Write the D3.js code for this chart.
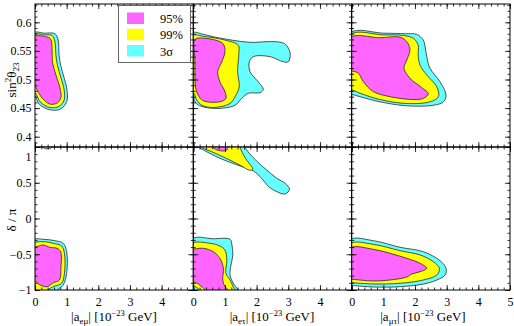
<!DOCTYPE html>
<html><head><meta charset="utf-8">
<script src="https://cdn.jsdelivr.net/npm/d3@7"></script>
<style>
body{margin:0;background:#fff;}
svg, svg text{font-family:"Liberation Serif","DejaVu Serif",serif !important;}
svg{display:block;}
</style></head><body>
<svg id="chart" width="514" height="326"></svg>
<script>
// ---------- data ----------
const xDomain = [0, 5];
const sinDomain = [0.382, 0.632];
const deltaDomain = [-1, 1];

const xTickLabelsA = [0, 1, 2, 3, 4];
const xTickLabelsC = [0, 1, 2, 3, 4, 5];
const sinTicks = [0.4, 0.45, 0.5, 0.55, 0.6];
const sinTickLabels = ["0.4", "0.45", "0.5", "0.55", "0.6"];
const deltaTicks = [-1, -0.5, 0, 0.5, 1];
const deltaTickLabels = ["\u22121", "\u22120.5", "0", "0.5", "1"];
const legendLabels = ["95%", "99%", "3\u03c3"];

// |a_eμ| vs sin²θ23
const emuSin3s = [[-0.05,0.581],[0.3,0.581],[0.63,0.580],[0.73,0.569],[0.76,0.543],[0.81,0.525],[0.92,0.503],[1.01,0.482],[1.0,0.461],[0.79,0.448],[0.47,0.447],[0.13,0.457],[0.0,0.471],[-0.05,0.472]];
const emuSin99 = [[-0.05,0.578],[0.3,0.578],[0.54,0.577],[0.63,0.566],[0.66,0.543],[0.71,0.525],[0.82,0.503],[0.92,0.482],[0.92,0.464],[0.76,0.453],[0.47,0.451],[0.16,0.461],[0.02,0.476],[-0.05,0.478]];
const emuSin95 = [[-0.05,0.574],[0.32,0.575],[0.49,0.571],[0.54,0.552],[0.55,0.531],[0.66,0.508],[0.79,0.485],[0.82,0.469],[0.70,0.459],[0.47,0.457],[0.22,0.468],[0.06,0.482],[0.0,0.489],[-0.05,0.49]];

// |a_eτ| vs sin²θ23
const etauSin3s = [[-0.05,0.581],[0.32,0.579],[0.69,0.574],[1.79,0.565],[2.27,0.566],[2.64,0.566],[2.90,0.562],[3.06,0.546],[3.0,0.531],[2.84,0.531],[2.42,0.540],[1.90,0.540],[1.77,0.531],[1.79,0.514],[2.05,0.496],[2.21,0.483],[2.11,0.477],[1.74,0.476],[1.53,0.467],[1.32,0.455],[0.95,0.450],[0.53,0.450],[0.21,0.454],[0.05,0.461],[0,0.470],[-0.05,0.471]];
const etauSin99 = [[-0.05,0.576],[0.37,0.575],[1.0,0.569],[1.42,0.560],[1.44,0.546],[1.40,0.514],[1.45,0.487],[1.32,0.470],[1.16,0.458],[0.63,0.451],[0.27,0.455],[0.11,0.464],[0.02,0.476],[-0.05,0.478]];
const etauSin95 = [[0.05,0.570],[0.37,0.572],[0.93,0.563],[1.0,0.549],[0.90,0.531],[0.77,0.514],[0.84,0.496],[1.0,0.479],[1.03,0.467],[0.84,0.461],[0.31,0.463],[0.15,0.473],[0.07,0.487],[0.05,0.534]];

// |a_μτ| vs sin²θ23
const mutauSin3s = [[-0.05,0.581],[1.0,0.581],[1.7,0.580],[2.05,0.579],[2.26,0.569],[2.32,0.557],[2.37,0.540],[2.47,0.520],[2.79,0.496],[2.98,0.473],[2.90,0.461],[2.58,0.455],[1.74,0.454],[0.89,0.461],[0.26,0.470],[0,0.474],[-0.05,0.474]];
const mutauSin99 = [[-0.05,0.578],[1.0,0.578],[1.63,0.577],[1.95,0.572],[2.10,0.560],[2.10,0.543],[2.16,0.525],[2.37,0.508],[2.69,0.487],[2.74,0.470],[2.47,0.461],[1.74,0.458],[0.89,0.465],[0.26,0.476],[0,0.482],[-0.05,0.482]];
const mutauSin95 = [[-0.05,0.573],[0.89,0.573],[1.53,0.574],[1.74,0.566],[1.84,0.552],[1.74,0.534],[1.65,0.520],[1.84,0.502],[2.21,0.486],[2.42,0.475],[2.26,0.467],[1.95,0.465],[1.21,0.470],[0.68,0.479],[0.37,0.496],[0.21,0.511],[0,0.515],[-0.05,0.515]];

// |a_eμ| vs δ/π
const emuDel3s = [[-0.05,-0.30],[0.26,-0.291],[0.63,-0.310],[0.89,-0.347],[1.0,-0.464],[1.0,-0.766],[0.89,-0.930],[0.70,-1.0],[0.6,-1.05],[-0.05,-1.05]];
const emuDel99 = [[-0.05,-0.357],[0.26,-0.324],[0.58,-0.347],[0.84,-0.385],[0.93,-0.487],[0.93,-0.766],[0.84,-0.906],[0.58,-0.952],[0.40,-1.0],[0.3,-1.04],[-0.05,-1.04]];
const emuDel95 = [[-0.05,-0.394],[0.05,-0.394],[0.26,-0.371],[0.47,-0.403],[0.69,-0.417],[0.81,-0.464],[0.82,-0.674],[0.77,-0.860],[0.58,-0.898],[0.37,-0.954],[0.16,-0.930],[0.03,-0.884],[-0.05,-0.88]];
const emuDelTop3s = [[0.25,1.03],[0.54,1.03],[0.5,0.985],[0.38,0.975],[0.28,0.985]];

// |a_eτ| vs δ/π
const etauDelUp3s = [[0.10,1.05],[1.63,1.05],[1.63,1.0],[2.0,0.804],[2.32,0.678],[2.64,0.562],[2.90,0.492],[3.04,0.408],[2.90,0.343],[2.64,0.375],[2.38,0.445],[2.27,0.501],[2.06,0.608],[1.85,0.678],[1.48,0.734],[0.84,0.842],[0.32,0.958],[0.16,1.0]];
const etauDelUp99 = [[0.25,1.05],[1.5,1.05],[1.48,1.0],[1.65,0.84],[1.88,0.69],[1.78,0.675],[1.5,0.74],[1.0,0.85],[0.6,0.93],[0.3,0.985],[0.25,1.0]];
const etauDelUp95 = [[0.6,1.05],[1.1,1.05],[1.1,1.0],[1.05,0.955],[0.9,0.945],[0.72,0.965],[0.62,1.0]];
const etauDelLo3s = [[-0.05,-0.291],[0.63,-0.283],[1.16,-0.291],[1.22,-0.371],[1.25,-0.510],[1.19,-0.650],[1.16,-0.790],[1.26,-0.902],[1.41,-1.0],[1.45,-1.05],[0.1,-1.05],[0.05,-1.0],[-0.05,-0.97]];
const etauDelLo99 = [[-0.05,-0.357],[0.53,-0.347],[0.84,-0.385],[1.0,-0.441],[1.06,-0.580],[1.03,-0.766],[1.16,-0.860],[1.26,-0.954],[1.32,-1.0],[1.35,-1.05],[0.25,-1.05],[0.2,-1.0],[0.0,-0.94],[-0.05,-0.94]];
const etauDelLo95 = [[-0.05,-0.43],[0.05,-0.425],[0.32,-0.417],[0.63,-0.464],[0.84,-0.557],[0.95,-0.697],[0.93,-0.860],[1.0,-0.954],[1.11,-1.0],[1.14,-1.05],[0.45,-1.05],[0.38,-1.0],[0.1,-0.9],[-0.05,-0.88]];

// |a_μτ| vs δ/π
const mutauDel3s = [[-0.05,-0.301],[0.68,-0.310],[1.53,-0.403],[2.26,-0.464],[2.79,-0.590],[2.98,-0.697],[2.95,-0.790],[2.69,-0.860],[2.26,-0.917],[1.53,-0.954],[0.68,-0.958],[0,-0.937],[-0.05,-0.937]];
const mutauDel99 = [[-0.05,-0.357],[0.68,-0.361],[1.53,-0.450],[2.16,-0.510],[2.58,-0.604],[2.77,-0.697],[2.69,-0.790],[2.26,-0.860],[1.53,-0.906],[0.68,-0.916],[0,-0.898],[-0.05,-0.898]];
const mutauDel95 = [[-0.05,-0.417],[0.68,-0.431],[1.21,-0.487],[1.74,-0.557],[2.16,-0.627],[2.37,-0.697],[2.16,-0.744],[1.90,-0.776],[1.74,-0.818],[1.21,-0.860],[0.68,-0.874],[0,-0.850],[-0.05,-0.85]];

// ---------- layout ----------
const FONT = "Liberation Serif, DejaVu Serif, serif";
const colX = [35, 193.3, 351.7], panelW = 158.3;
const rowY = [4, 147], panelH = 143;
const fills = {c3: "#66ffff", c99: "#ffff00", c95: "#ff66ff"};
const xTitleCenters = [114, 272, 423];
const xSubs = ["e\u03bc", "e\u03c4", "\u03bc\u03c4"];

const panels = [
  {col:0,row:0,regions:[[emuSin3s,"c3"],[emuSin99,"c99"],[emuSin95,"c95"]]},
  {col:1,row:0,regions:[[etauSin3s,"c3"],[etauSin99,"c99"],[etauSin95,"c95"]]},
  {col:2,row:0,regions:[[mutauSin3s,"c3"],[mutauSin99,"c99"],[mutauSin95,"c95"]]},
  {col:0,row:1,regions:[[emuDel3s,"c3"],[emuDel99,"c99"],[emuDel95,"c95"],[emuDelTop3s,"c3"]]},
  {col:1,row:1,regions:[[etauDelUp3s,"c3"],[etauDelUp99,"c99"],[etauDelUp95,"c95"],[etauDelLo3s,"c3"],[etauDelLo99,"c99"],[etauDelLo95,"c95"]]},
  {col:2,row:1,regions:[[mutauDel3s,"c3"],[mutauDel99,"c99"],[mutauDel95,"c95"]]}
];

const svg = d3.select("#chart");
const defs = svg.append("defs");

const xMinor = d3.range(0, 5.0001, 0.2);
const xMajor = d3.range(0, 5.0001, 1);
const sinMinor = d3.range(0.39, 0.6301, 0.01);
const deltaMinor = d3.range(-1, 1.0001, 0.1);

function styleAxis(g){
  g.select(".domain").remove();
  g.selectAll("line").attr("stroke","#000").attr("stroke-width",0.8);
}

panels.forEach((p,i)=>{
  const x0 = colX[p.col], y0 = rowY[p.row];
  const x = d3.scaleLinear().domain(xDomain).range([x0, x0+panelW]);
  const y = d3.scaleLinear().domain(p.row===0?sinDomain:deltaDomain).range([y0+panelH, y0]);
  const clipId = "clip"+i;
  defs.append("clipPath").attr("id",clipId).append("rect")
    .attr("x",x0).attr("y",y0).attr("width",panelW).attr("height",panelH);
  const line = d3.line().x(d=>x(d[0])).y(d=>y(d[1])).curve(d3.curveCatmullRomClosed.alpha(0.5));
  const g = svg.append("g").attr("clip-path",`url(#${clipId})`);
  g.selectAll("path").data(p.regions).join("path")
    .attr("d",d=>line(d[0]))
    .attr("fill",d=>fills[d[1]])
    .attr("stroke","#2a2a2a").attr("stroke-width",0.8);

  const yMinor = p.row===0?sinMinor:deltaMinor;
  const yMajor = p.row===0?sinTicks:deltaTicks;
  [[xMinor,2.5],[xMajor,5]].forEach(([vals,len])=>{
    svg.append("g").attr("transform",`translate(0,${y0+panelH})`)
      .call(d3.axisBottom(x).tickValues(vals).tickSize(-len).tickFormat("")).call(styleAxis);
    svg.append("g").attr("transform",`translate(0,${y0})`)
      .call(d3.axisTop(x).tickValues(vals).tickSize(-len).tickFormat("")).call(styleAxis);
  });
  [[yMinor,2.5],[yMajor,5]].forEach(([vals,len])=>{
    svg.append("g").attr("transform",`translate(${x0},0)`)
      .call(d3.axisLeft(y).tickValues(vals).tickSize(-len).tickFormat("")).call(styleAxis);
    svg.append("g").attr("transform",`translate(${x0+panelW},0)`)
      .call(d3.axisRight(y).tickValues(vals).tickSize(-len).tickFormat("")).call(styleAxis);
  });
  svg.append("rect").attr("x",x0).attr("y",y0).attr("width",panelW).attr("height",panelH)
    .attr("fill","none").attr("stroke","#000").attr("stroke-width",1);

  if (p.col===0){
    const labs = p.row===0?sinTickLabels:deltaTickLabels;
    const ya = svg.append("g").attr("transform",`translate(${x0},0)`)
      .call(d3.axisLeft(y).tickValues(yMajor).tickSize(0).tickPadding(3.5)
        .tickFormat((d,k)=>labs[k]));
    ya.select(".domain").remove();
    ya.attr("font-family",FONT).attr("font-size",12);
    ya.selectAll("text").attr("font-family",FONT).attr("font-size",12).attr("fill","#000");
    if (p.row===1){
      ya.selectAll("text").filter(d=>d===1).attr("dy","1.1em");
    }
  }
  if (p.row===1){
    const labs = p.col===2?xTickLabelsC:xTickLabelsA;
    const xa = svg.append("g").attr("transform",`translate(0,${y0+panelH})`)
      .call(d3.axisBottom(x).tickValues(labs).tickSize(0).tickPadding(7.5).tickFormat(d=>String(d)));
    xa.select(".domain").remove();
    xa.attr("font-family",FONT).attr("font-size",12);
    xa.selectAll("text").attr("font-family",FONT).attr("font-size",12).attr("fill","#000");
    const t = svg.append("text").attr("x",xTitleCenters[p.col]).attr("y",321)
      .attr("text-anchor","middle").attr("font-family",FONT).attr("font-size",13).attr("fill","#000");
    t.append("tspan").text("|a");
    t.append("tspan").attr("font-size",9).attr("dy",3).text(xSubs[p.col]);
    t.append("tspan").attr("dy",-3).text("| [10");
    t.append("tspan").attr("font-size",8.5).attr("dy",-5).text("\u221223");
    t.append("tspan").attr("dy",5).text(" GeV]");
  }
});

const t1 = svg.append("text").attr("transform","translate(16,80) rotate(-90)")
  .attr("text-anchor","middle").attr("font-family",FONT).attr("font-size",13).attr("fill","#000");
t1.append("tspan").text("sin");
t1.append("tspan").attr("font-size",9).attr("dy",-5).text("2");
t1.append("tspan").attr("dy",5).text("\u03b8");
t1.append("tspan").attr("font-size",9).attr("dy",3).text("23");
svg.append("text").attr("transform","translate(16,220) rotate(-90)")
  .attr("text-anchor","middle").attr("font-family",FONT).attr("font-size",13).attr("fill","#000").text("\u03b4 / \u03c0");

const lg = svg.append("g");
lg.append("rect").attr("x",118.5).attr("y",5.5).attr("width",72).attr("height",57)
  .attr("fill","#fff").attr("stroke","#666").attr("stroke-width",1);
const legKeys = ["c95","c99","c3"];
const legY = d3.scalePoint().domain(legKeys).range([12.5,45]);
lg.selectAll("rect.sw").data(legKeys).join("rect").attr("class","sw")
  .attr("x",127).attr("y",d=>legY(d)).attr("width",17).attr("height",11.5)
  .attr("fill",d=>fills[d]);
lg.selectAll("text").data(legKeys).join("text")
  .attr("x",160).attr("y",d=>legY(d)+10.5).attr("font-family",FONT).attr("font-size",12.5).attr("fill","#000")
  .text((d,k)=>legendLabels[k]);
</script>
</body></html>
